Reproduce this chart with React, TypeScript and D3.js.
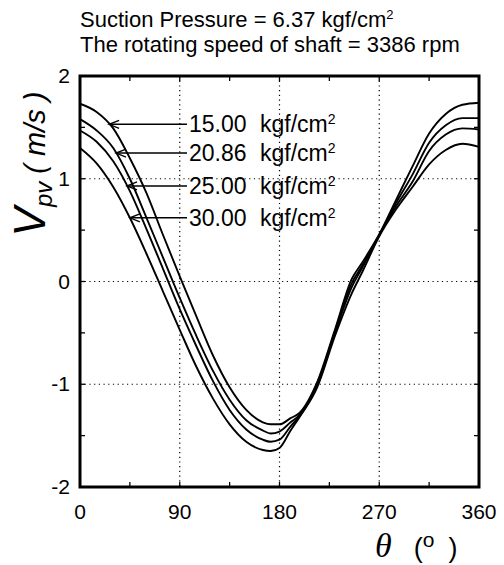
import React, { useRef, useEffect } from 'react';
import * as d3 from 'd3';

// crank angle (deg) and piston-valve velocity (m/s) for each discharge pressure
const thetaDeg = [0, 15, 30, 45, 60, 75, 90, 105, 120, 135, 150, 165, 172, 180, 190, 198, 214, 230, 245, 255, 270, 285, 300, 315, 330, 345, 360];
const v1500 = [1.73, 1.65, 1.49, 1.2, 0.86, 0.45, 0.05, -0.34, -0.72, -1.03, -1.25, -1.37, -1.39, -1.39, -1.33, -1.28, -0.98, -0.47, 0.02, 0.19, 0.46, 0.79, 1.12, 1.44, 1.63, 1.72, 1.74];
const v2086 = [1.58, 1.47, 1.3, 1.0, 0.62, 0.23, -0.16, -0.53, -0.87, -1.15, -1.35, -1.45, -1.48, -1.46, -1.37, -1.3, -1.0, -0.49, -0.02, 0.16, 0.45, 0.76, 1.04, 1.35, 1.52, 1.59, 1.59];
const v2500 = [1.47, 1.36, 1.17, 0.88, 0.51, 0.12, -0.27, -0.63, -0.97, -1.25, -1.44, -1.54, -1.56, -1.54, -1.41, -1.31, -1.01, -0.5, -0.06, 0.14, 0.45, 0.73, 0.97, 1.27, 1.43, 1.49, 1.48];
const v3000 = [1.3, 1.15, 0.92, 0.62, 0.27, -0.1, -0.47, -0.83, -1.14, -1.39, -1.56, -1.64, -1.65, -1.62, -1.45, -1.32, -1.03, -0.53, -0.12, 0.1, 0.44, 0.7, 0.92, 1.14, 1.28, 1.34, 1.31];

const pressureLabels = ['15.00', '20.86', '25.00', '30.00'];
const arrowAt = [1.53, 1.25, 0.93, 0.62]; // value where each label arrow meets its curve
const xTicks = [0, 90, 180, 270, 360];
const yTicks = [-2, -1, 0, 1, 2];

const FONT = '"Liberation Sans", Arial, sans-serif';

const App = () => {
  const ref = useRef(null);

  useEffect(() => {
    const svg = d3.select(ref.current);
    svg.selectAll('*').remove();

    const margin = { top: 76, right: 25, bottom: 78, left: 80 };
    const W = 504, H = 565;
    const x = d3.scaleLinear().domain([0, 360]).range([margin.left, W - margin.right]);
    const y = d3.scaleLinear().domain([-2, 2]).range([H - margin.bottom, margin.top]);

    svg.append('rect').attr('width', W).attr('height', H).attr('fill', 'white');

    svg.append('text')
      .attr('x', 80).attr('y', 27)
      .style('font-family', FONT).style('font-size', '22px')
      .call(t => {
        t.append('tspan').text('Suction Pressure = 6.37 kgf/cm');
        t.append('tspan').attr('dy', -8).style('font-size', '13px').text('2');
      });
    svg.append('text')
      .attr('x', 80).attr('y', 52)
      .style('font-family', FONT).style('font-size', '22px')
      .text('The rotating speed of shaft = 3386 rpm');

    // dotted grid
    const grid = svg.append('g').attr('stroke', '#000').attr('stroke-width', 1.2).attr('stroke-dasharray', '1.2,3.5');
    grid.selectAll('.gx').data([90, 180, 270]).enter().append('line')
      .attr('x1', d => x(d)).attr('x2', d => x(d)).attr('y1', y(2)).attr('y2', y(-2));
    grid.selectAll('.gy').data([-1, 0, 1]).enter().append('line')
      .attr('y1', d => y(d)).attr('y2', d => y(d)).attr('x1', x(0)).attr('x2', x(360));

    // inward minor/major ticks on all sides
    const tk = svg.append('g').attr('stroke', '#000').attr('stroke-width', 1.3);
    const xt = d3.range(0, 361, 45);
    const yt = d3.range(-2, 2.01, 0.5);
    tk.selectAll('.tb').data(xt).enter().append('line')
      .attr('x1', d => x(d)).attr('x2', d => x(d)).attr('y1', y(-2)).attr('y2', y(-2) - 5);
    tk.selectAll('.tt').data(xt).enter().append('line')
      .attr('x1', d => x(d)).attr('x2', d => x(d)).attr('y1', y(2)).attr('y2', y(2) + 5);
    tk.selectAll('.tl').data(yt).enter().append('line')
      .attr('y1', d => y(d)).attr('y2', d => y(d)).attr('x1', x(0)).attr('x2', x(0) + 5);
    tk.selectAll('.tr').data(yt).enter().append('line')
      .attr('y1', d => y(d)).attr('y2', d => y(d)).attr('x1', x(360)).attr('x2', x(360) - 5);

    // curves
    const series = [v1500, v2086, v2500, v3000];
    const line = d3.line<number>()
      .x((_, i) => x(thetaDeg[i]))
      .y(d => y(d))
      .curve(d3.curveMonotoneX);
    svg.append('g').selectAll('path').data(series).enter().append('path')
      .attr('d', d => line(d))
      .attr('fill', 'none').attr('stroke', '#000').attr('stroke-width', 1.9);

    // frame
    svg.append('rect')
      .attr('x', x(0)).attr('y', y(2))
      .attr('width', x(360) - x(0)).attr('height', y(-2) - y(2))
      .attr('fill', 'none').attr('stroke', '#000').attr('stroke-width', 3);

    // tick labels
    svg.selectAll('.xl').data(xTicks).enter().append('text')
      .attr('x', d => x(d)).attr('y', y(-2) + 32)
      .attr('text-anchor', 'middle')
      .style('font-family', FONT).style('font-size', '21px')
      .text(d => d);
    svg.selectAll('.yl').data(yTicks).enter().append('text')
      .attr('x', x(0) - 10).attr('y', d => y(d) + 7)
      .attr('text-anchor', 'end')
      .style('font-family', FONT).style('font-size', '21px')
      .text(d => d);

    // legend labels with arrows to curves
    const firstHalf = thetaDeg.filter(t => t <= 165);
    series.forEach((s, i) => {
      const v = arrowAt[i];
      let tip = 0;
      for (let j = 0; j < firstHalf.length - 1; j++) {
        if (s[j] >= v && s[j + 1] < v) {
          tip = thetaDeg[j] + (s[j] - v) / (s[j] - s[j + 1]) * (thetaDeg[j + 1] - thetaDeg[j]);
          break;
        }
      }
      const tx = x(tip), ty = y(v);
      const g = svg.append('g').attr('stroke', '#000').attr('stroke-width', 1.4).attr('fill', 'none');
      g.append('line').attr('x1', tx).attr('x2', 187).attr('y1', ty).attr('y2', ty);
      g.append('path').attr('d', `M${tx + 10},${ty - 4}L${tx},${ty}L${tx + 10},${ty + 4}`);
      const t = svg.append('text')
        .attr('x', 189).attr('y', ty + 8)
        .style('font-family', FONT).style('font-size', '23px');
      t.append('tspan').text(pressureLabels[i]);
      t.append('tspan').attr('x', 260).text('kgf/cm');
      t.append('tspan').attr('dy', -8).style('font-size', '14px').text('2');
    });

    // axis titles
    const yl = svg.append('text')
      .attr('transform', 'translate(45,164) rotate(-90)')
      .attr('text-anchor', 'middle')
      .style('font-family', FONT).style('font-style', 'italic');
    yl.append('tspan').style('font-size', '44px').text('V');
    yl.append('tspan').attr('dy', 7).style('font-size', '24px').text('pv');
    yl.append('tspan').attr('dy', -7).style('font-size', '29px').text(' ( m/s )');

    const xl = svg.append('text')
      .attr('x', 375).attr('y', 557)
      .style('font-family', FONT);
    xl.append('tspan').style('font-family', '"Liberation Serif", serif').style('font-style', 'italic').style('font-size', '34px').text('θ');
    xl.append('tspan').attr('dx', 22).style('font-size', '27px').text('(');
    xl.append('tspan').attr('dx', 0).attr('dy', -10).style('font-size', '21px').text('o');
    xl.append('tspan').attr('dx', 14).attr('dy', 10).style('font-size', '27px').text(')');
  }, []);

  return (
    <svg ref={ref} width={504} height={565}
      style={{ position: 'absolute', left: 0, top: 0, display: 'block' }} />
  );
};

export default App;
